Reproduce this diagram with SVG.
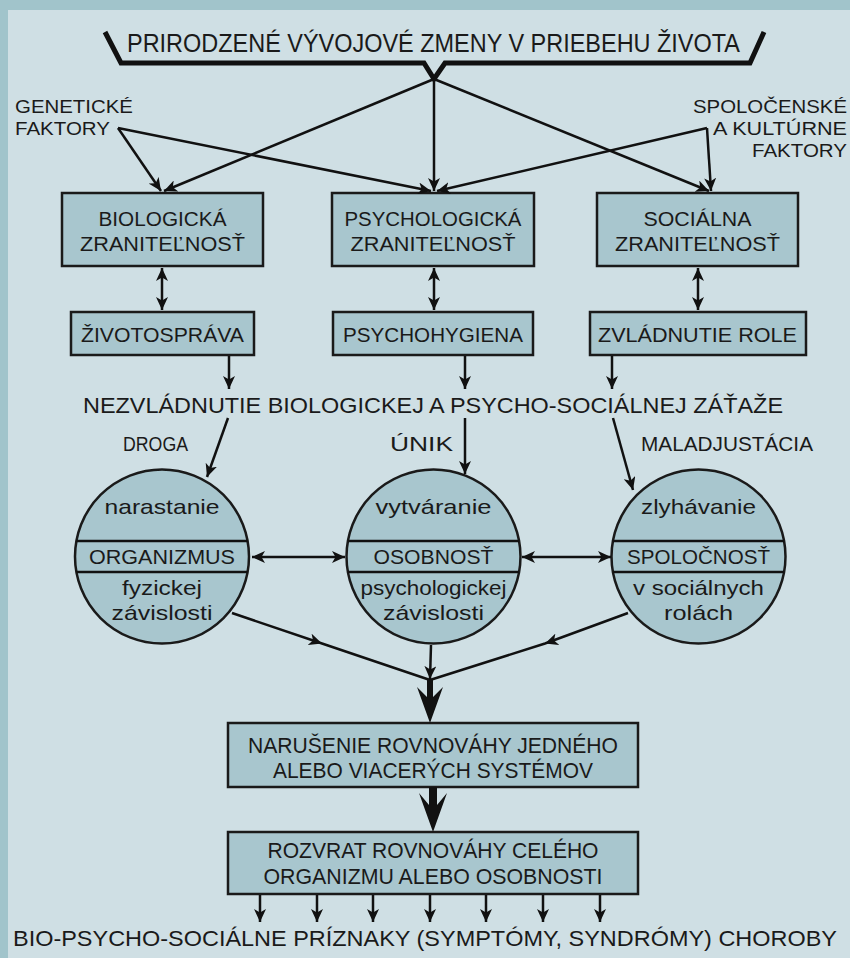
<svg xmlns="http://www.w3.org/2000/svg" width="850" height="958" viewBox="0 0 850 958">
<defs>
<marker id="ah" markerUnits="userSpaceOnUse" markerWidth="14" markerHeight="12" refX="13" refY="6" orient="auto-start-reverse" viewBox="0 0 14 12">
<path d="M0,0 L13,6 L0,12 L3.5,6 Z" fill="#111"/>
</marker>
<style>
.t{font-family:"Liberation Sans",Arial,sans-serif;fill:#1a1a1a}
.box{fill:#a8c6ce;stroke:#1a1a1a;stroke-width:2.5}
.ln{stroke:#111;stroke-width:2.5;fill:none}
.ar{stroke:#111;stroke-width:2.5;fill:none;marker-end:url(#ah)}
.dar{stroke:#111;stroke-width:2.5;fill:none;marker-end:url(#ah);marker-start:url(#ah)}
.mid{stroke:#111;stroke-width:2.5;fill:none;marker-mid:url(#ah)}
</style>
</defs>
<rect x="0" y="0" width="850" height="958" fill="#a1c4cb"/>
<rect x="8" y="10" width="842" height="948" fill="#cfdfe4"/>

<g id="title">
<path d="M105,32 L121,63 L424,63 L434,79 L445,63 L750,63 L764,32" fill="none" stroke="#111" stroke-width="5" stroke-linejoin="miter"/>
<text class="t" x="127" y="52" font-size="26" textLength="613" lengthAdjust="spacingAndGlyphs">PRIRODZENÉ VÝVOJOVÉ ZMENY V PRIEBEHU ŽIVOTA</text>
</g>

<g id="genetic">
<text class="t" x="15" y="113" font-size="19" textLength="118" lengthAdjust="spacingAndGlyphs">GENETICKÉ</text>
<text class="t" x="15" y="135" font-size="19" textLength="95" lengthAdjust="spacingAndGlyphs">FAKTORY</text>
</g>
<g id="social-factors">
<text class="t" x="847" y="113" font-size="19" text-anchor="end" textLength="154" lengthAdjust="spacingAndGlyphs">SPOLOČENSKÉ</text>
<text class="t" x="847" y="135" font-size="19" text-anchor="end" textLength="134" lengthAdjust="spacingAndGlyphs">A KULTÚRNE</text>
<text class="t" x="847" y="157" font-size="19" text-anchor="end" textLength="95" lengthAdjust="spacingAndGlyphs">FAKTORY</text>
</g>

<g id="bio">
<rect class="box" x="62" y="193" width="201" height="73"/>
<text class="t" x="162.5" y="226" font-size="20" text-anchor="middle" textLength="128" lengthAdjust="spacingAndGlyphs">BIOLOGICKÁ</text>
<text class="t" x="162.5" y="251" font-size="20" text-anchor="middle" textLength="165" lengthAdjust="spacingAndGlyphs">ZRANITEĽNOSŤ</text>
</g>
<g id="psych">
<rect class="box" x="332" y="193" width="202" height="73"/>
<text class="t" x="433" y="226" font-size="20" text-anchor="middle" textLength="177" lengthAdjust="spacingAndGlyphs">PSYCHOLOGICKÁ</text>
<text class="t" x="433" y="251" font-size="20" text-anchor="middle" textLength="165" lengthAdjust="spacingAndGlyphs">ZRANITEĽNOSŤ</text>
</g>
<g id="social">
<rect class="box" x="597" y="193" width="201" height="73"/>
<text class="t" x="697.5" y="226" font-size="20" text-anchor="middle" textLength="108" lengthAdjust="spacingAndGlyphs">SOCIÁLNA</text>
<text class="t" x="697.5" y="251" font-size="20" text-anchor="middle" textLength="165" lengthAdjust="spacingAndGlyphs">ZRANITEĽNOSŤ</text>
</g>

<g id="zivotosprava">
<rect class="box" x="71" y="312" width="183" height="43"/>
<text class="t" x="162.5" y="342" font-size="21" text-anchor="middle" textLength="163" lengthAdjust="spacingAndGlyphs">ŽIVOTOSPRÁVA</text>
</g>
<g id="psychohygiena">
<rect class="box" x="333" y="312" width="200" height="43"/>
<text class="t" x="433" y="342" font-size="21" text-anchor="middle" textLength="180" lengthAdjust="spacingAndGlyphs">PSYCHOHYGIENA</text>
</g>
<g id="zvladnutie">
<rect class="box" x="590" y="312" width="216" height="43"/>
<text class="t" x="697.5" y="342" font-size="21" text-anchor="middle" textLength="199" lengthAdjust="spacingAndGlyphs">ZVLÁDNUTIE ROLE</text>
</g>

<g id="nezvladnutie">
<text class="t" x="433" y="413" font-size="22.5" text-anchor="middle" textLength="700" lengthAdjust="spacingAndGlyphs">NEZVLÁDNUTIE BIOLOGICKEJ A PSYCHO-SOCIÁLNEJ ZÁŤAŽE</text>
</g>
<g id="labels">
<text class="t" x="123" y="451" font-size="20" textLength="65" lengthAdjust="spacingAndGlyphs">DROGA</text>
<text class="t" x="390" y="451" font-size="20" textLength="63" lengthAdjust="spacingAndGlyphs">ÚNIK</text>
<text class="t" x="641" y="451" font-size="20" textLength="172" lengthAdjust="spacingAndGlyphs">MALADJUSTÁCIA</text>
</g>

<g id="organizmus">
<circle cx="162" cy="556.5" r="87" class="box"/>
<line class="ln" x1="76.4" y1="541" x2="247.6" y2="541"/>
<line class="ln" x1="76.4" y1="572" x2="247.6" y2="572"/>
<text class="t" x="162" y="514" font-size="21" text-anchor="middle" textLength="115" lengthAdjust="spacingAndGlyphs">narastanie</text>
<text class="t" x="162" y="564" font-size="21" text-anchor="middle" textLength="146" lengthAdjust="spacingAndGlyphs">ORGANIZMUS</text>
<text class="t" x="162" y="595" font-size="21" text-anchor="middle" textLength="80" lengthAdjust="spacingAndGlyphs">fyzickej</text>
<text class="t" x="162" y="620" font-size="21" text-anchor="middle" textLength="101" lengthAdjust="spacingAndGlyphs">závislosti</text>
</g>
<g id="osobnost">
<circle cx="433.5" cy="556.5" r="87" class="box"/>
<line class="ln" x1="347.9" y1="541" x2="519.1" y2="541"/>
<line class="ln" x1="347.9" y1="572" x2="519.1" y2="572"/>
<text class="t" x="433.5" y="514" font-size="21" text-anchor="middle" textLength="116" lengthAdjust="spacingAndGlyphs">vytváranie</text>
<text class="t" x="433.5" y="564" font-size="21" text-anchor="middle" textLength="120" lengthAdjust="spacingAndGlyphs">OSOBNOSŤ</text>
<text class="t" x="433.5" y="595" font-size="21" text-anchor="middle" textLength="146" lengthAdjust="spacingAndGlyphs">psychologickej</text>
<text class="t" x="433.5" y="620" font-size="21" text-anchor="middle" textLength="101" lengthAdjust="spacingAndGlyphs">závislosti</text>
</g>
<g id="spolocnost">
<circle cx="698.5" cy="556.5" r="87" class="box"/>
<line class="ln" x1="612.9" y1="541" x2="784.1" y2="541"/>
<line class="ln" x1="612.9" y1="572" x2="784.1" y2="572"/>
<text class="t" x="698.5" y="514" font-size="21" text-anchor="middle" textLength="115" lengthAdjust="spacingAndGlyphs">zlyhávanie</text>
<text class="t" x="698.5" y="564" font-size="21" text-anchor="middle" textLength="143" lengthAdjust="spacingAndGlyphs">SPOLOČNOSŤ</text>
<text class="t" x="698.5" y="595" font-size="21" text-anchor="middle" textLength="131" lengthAdjust="spacingAndGlyphs">v sociálnych</text>
<text class="t" x="698.5" y="620" font-size="21" text-anchor="middle" textLength="69" lengthAdjust="spacingAndGlyphs">rolách</text>
</g>

<g id="narusenie">
<rect class="box" x="228" y="723" width="410" height="64"/>
<text class="t" x="433" y="753" font-size="21.5" text-anchor="middle" textLength="370" lengthAdjust="spacingAndGlyphs">NARUŠENIE ROVNOVÁHY JEDNÉHO</text>
<text class="t" x="433" y="778" font-size="21.5" text-anchor="middle" textLength="320" lengthAdjust="spacingAndGlyphs">ALEBO VIACERÝCH SYSTÉMOV</text>
</g>
<g id="rozvrat">
<rect class="box" x="228" y="832" width="410" height="62"/>
<text class="t" x="433" y="858" font-size="22" text-anchor="middle" textLength="331" lengthAdjust="spacingAndGlyphs">ROZVRAT ROVNOVÁHY CELÉHO</text>
<text class="t" x="433" y="884" font-size="22" text-anchor="middle" textLength="339" lengthAdjust="spacingAndGlyphs">ORGANIZMU ALEBO OSOBNOSTI</text>
</g>
<g id="priznaky">
<text class="t" x="13" y="946" font-size="22.5" textLength="824" lengthAdjust="spacingAndGlyphs">BIO-PSYCHO-SOCIÁLNE PRÍZNAKY (SYMPTÓMY, SYNDRÓMY) CHOROBY</text>
</g>

<g id="connectors">
<line class="ar" x1="434" y1="79" x2="164" y2="191"/>
<line class="ar" x1="434" y1="79" x2="434" y2="191"/>
<line class="ar" x1="434" y1="79" x2="709" y2="191"/>
<line class="ar" x1="118" y1="128" x2="161" y2="191"/>
<line class="ar" x1="118" y1="128" x2="431" y2="191"/>
<line class="ar" x1="707" y1="128" x2="437" y2="191"/>
<line class="ar" x1="707" y1="128" x2="711" y2="191"/>

<line class="dar" x1="162" y1="268" x2="162" y2="310"/>
<line class="dar" x1="434" y1="268" x2="434" y2="310"/>
<line class="dar" x1="698" y1="268" x2="698" y2="310"/>

<line class="ar" x1="229" y1="356" x2="229" y2="389"/>
<line class="ar" x1="465" y1="356" x2="465" y2="389"/>
<line class="ar" x1="612" y1="356" x2="612" y2="389"/>

<line class="ar" x1="228" y1="418" x2="207" y2="477"/>
<line class="ar" x1="465" y1="418" x2="465" y2="474"/>
<line class="ar" x1="613" y1="418" x2="633" y2="490"/>

<line class="dar" x1="252" y1="557" x2="345" y2="557"/>
<line class="dar" x1="522" y1="557" x2="611" y2="557"/>

<path class="mid" d="M232,613 L322,643.5 L430,680"/>
<path class="mid" d="M628,613 L545,643.5 L430,680"/>
<line class="ar" x1="431" y1="645" x2="430" y2="679"/>

<path d="M427,680 L433,680 L433,697 L443,687 L430,723 L417,687 L427,697 Z" fill="#111"/>
<path d="M429,787 L437,787 L437,805 L447,793 L433,832 L419,793 L429,805 Z" fill="#111"/>

<line class="ar" x1="260" y1="895" x2="260" y2="922"/>
<line class="ar" x1="317" y1="895" x2="317" y2="922"/>
<line class="ar" x1="373" y1="895" x2="373" y2="922"/>
<line class="ar" x1="430" y1="895" x2="430" y2="922"/>
<line class="ar" x1="486" y1="895" x2="486" y2="922"/>
<line class="ar" x1="543" y1="895" x2="543" y2="922"/>
<line class="ar" x1="600" y1="895" x2="600" y2="922"/>
</g>
</svg>
